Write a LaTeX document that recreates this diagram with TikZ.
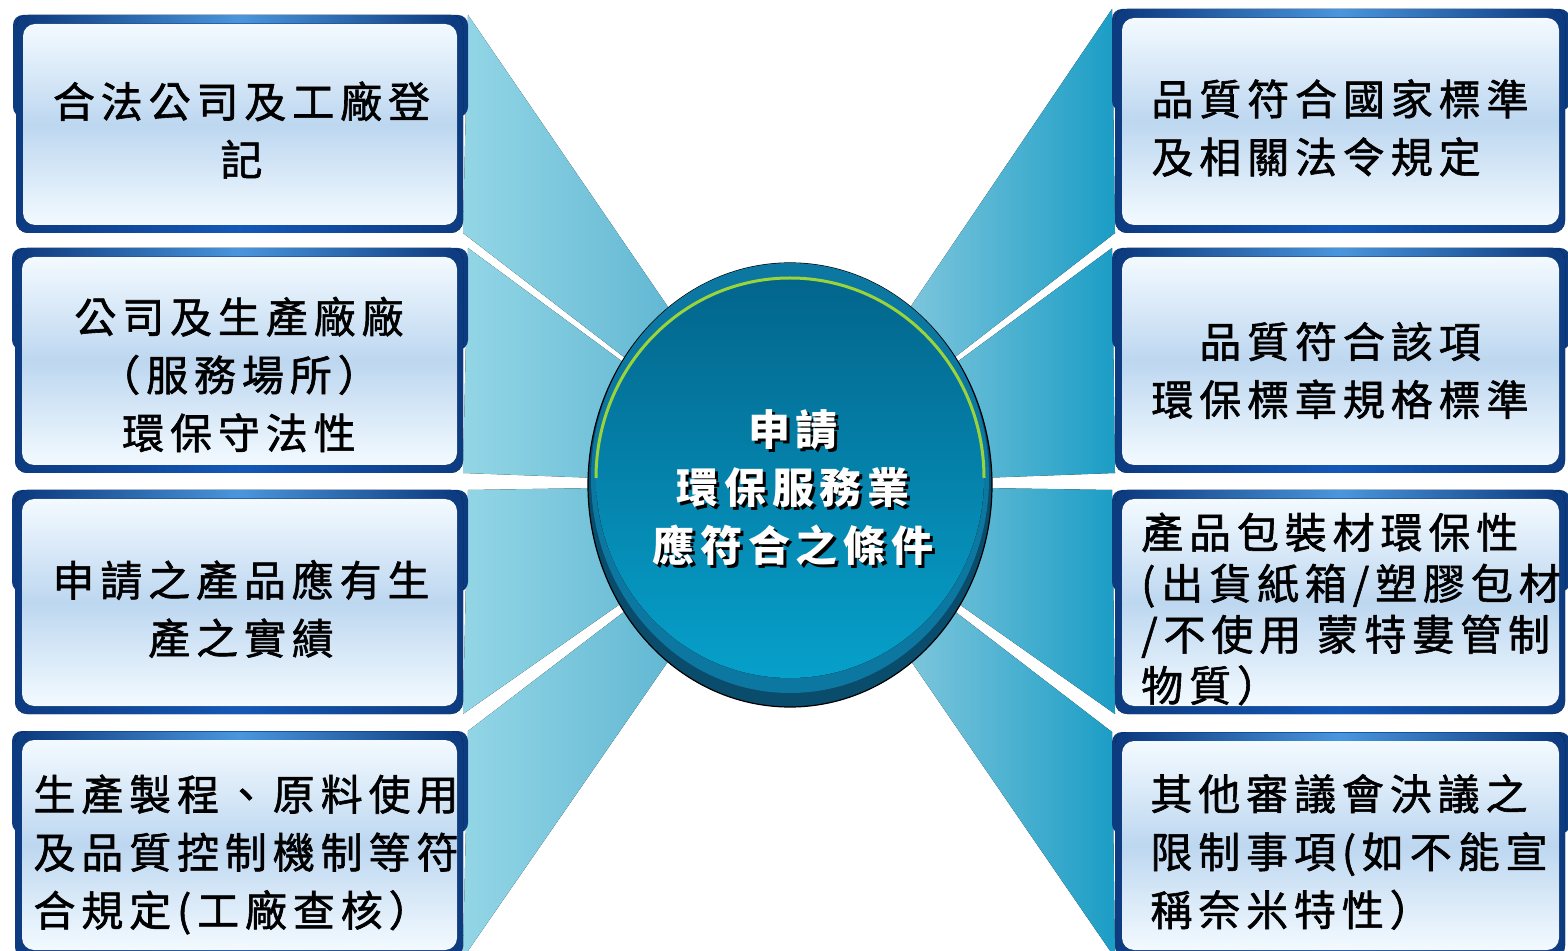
\documentclass[tikz,border=0pt]{standalone}
\usepackage{fontspec}
\newfontfamily\cjk{Noto Sans CJK TC}[LetterSpace=14]
\newfontfamily\cjkbox{Noto Sans CJK TC}[LetterSpace=14, FakeBold=1.4]
\usetikzlibrary{shapes.geometric,backgrounds}

\definecolor{framedark}{HTML}{0D3B80}
\definecolor{framemid}{HTML}{1458B8}
\definecolor{framelight}{HTML}{4A96DC}
\definecolor{paneledge}{HTML}{F3FAFF}
\definecolor{panelmid}{HTML}{BDD7F0}
\definecolor{fanlightL}{HTML}{93D6E6}
\definecolor{fandarkL}{HTML}{46A6C8}
\definecolor{fanlightR}{HTML}{B5DDEA}
\definecolor{fandarkR}{HTML}{1B9DC5}
\definecolor{hubouter}{HTML}{0A4C6B}
\definecolor{hubrimcol}{HTML}{0C77A1}
\definecolor{hubtop}{HTML}{03658C}
\definecolor{hubbottom}{HTML}{06A0CA}
\definecolor{hubgreen}{HTML}{9AD43A}

\tikzset{
  boxtab/.style={rounded corners=5pt, fill=framedark},
  boxframe/.style={rounded corners=6pt, left color=framedark, right color=framedark, middle color=framemid},
  boxtop/.style={left color=framedark, right color=framedark, middle color=framelight},
  boxpanel/.style={rounded corners=6pt, top color=paneledge, bottom color=paneledge, middle color=panelmid},
  boxtext/.style={font=\cjkbox\fontsize{21}{29}\selectfont, inner sep=0pt},
  leftfan/.style={left color=fanlightL, right color=fandarkL},
  rightfan/.style={left color=fanlightR, right color=fandarkR},
  hubdisc/.style={ellipse, draw=black, line width=0.6pt, fill=hubouter,
    minimum width=202pt, minimum height=222pt, inner sep=0pt},
  hubrim/.style={fill=hubrimcol},
  hubface/.style={top color=hubtop, bottom color=hubbottom},
  hubglow/.style={draw=hubgreen, line width=1.5pt},
  hubtext/.style={font=\cjk\bfseries\fontsize{21}{29}\selectfont, text=white, align=center, inner sep=0pt},
}

% name, x1, y1, x2, y2, text options, dx, dy, text
\newcommand\condbox[9]{%
  \fill[boxtab] (#2-3,#3) rectangle (#4+5,#3+102);
  \fill[boxframe] (#2,#3) rectangle (#4,#5);
  \fill[boxtop] (#2+9,#3+1) rectangle (#4-9,#3+8);
  \fill[boxpanel] (#2+7,#3+9) rectangle (#4-6,#5-8);
  \node[boxtext, #6] (#1) at ({(#2+#4)/2+#7},{(#3+#5)/2+#8}) {#9};
  \coordinate (#1-nw) at (#2-3,#3);
  \coordinate (#1-sw) at (#2,#5);
  \coordinate (#1-ne) at (#4+5,#3);
  \coordinate (#1-se) at (#4,#5);
}

\begin{document}
\begin{tikzpicture}[x=0.5pt,y=-0.5pt]
  \useasboundingbox (0,0) rectangle (1568,951);

  % left column
  \condbox{L1}{16}{15}{463}{233}{align=center}{2}{6}{合法公司及工廠登\\記}
  \condbox{L2}{15}{248}{463}{473}{align=center}{0}{14}{公司及生產廠廠\\（服務場所）\\環保守法性}
  \condbox{L3}{15}{490}{463}{714}{align=center}{2}{7}{申請之產品應有生\\產之實績}
  \condbox{L4}{15}{731}{463}{958}{align=left}{7}{10}{生產製程、原料使用\\及品質控制機制等符\\合規定(工廠查核）}

  % right column
  \condbox{R1}{1115}{9}{1565}{233}{align=left}{0}{7}{品質符合國家標準\\及相關法令規定}
  \condbox{R2}{1115}{248}{1565}{473}{align=center}{0}{10}{品質符合該項\\環保標章規格標準}
  \condbox{R3}{1115}{490}{1565}{714}{align=left, font=\cjkbox\fontsize{21}{25.5}\selectfont}{11}{7}{產品包裝材環保性\\(出貨紙箱/塑膠包材\\/不使用 蒙特婁管制\\物質）}
  \condbox{R4}{1115}{732}{1565}{958}{align=left}{9}{7}{其他審議會決議之\\限制事項(如不能宣\\稱奈米特性）}

  % hub
  \node[hubdisc] (hub) at (790,485) {};
  \fill[hubrim] ([yshift=3.5pt]hub.center) ellipse [x radius=99.5pt, y radius=107.5pt];
  \fill[hubface] ([yshift=3.5pt]hub.center) ellipse [x radius=97pt, y radius=100pt];
  \draw[hubglow] ([xshift=-97pt,yshift=3.5pt]hub.center)
    arc [start angle=180, end angle=0, x radius=97pt, y radius=100pt];
  \node[hubtext, text=black] (hubshade) at (796,491) {申請\\環保服務業\\應符合之條件};
  \node[hubtext] (hubtitle) at (793,488) {申請\\環保服務業\\應符合之條件};

  % fans behind everything
  \begin{scope}[on background layer]
    \fill[leftfan]
      (hub.center) -- (L1-ne) -- (L1-se) -- cycle
      (hub.center) -- (L2-ne) -- (L2-se) -- cycle
      (hub.center) -- (L3-ne) -- (L3-se) -- cycle
      (hub.center) -- (L4-ne) -- (L4-se) -- cycle;
    \fill[rightfan]
      (hub.center) -- (R1-nw) -- (R1-sw) -- cycle
      (hub.center) -- (R2-nw) -- (R2-sw) -- cycle
      (hub.center) -- (R3-nw) -- (R3-sw) -- cycle
      (hub.center) -- (R4-nw) -- (R4-sw) -- cycle;
  \end{scope}
\end{tikzpicture}
\end{document}
